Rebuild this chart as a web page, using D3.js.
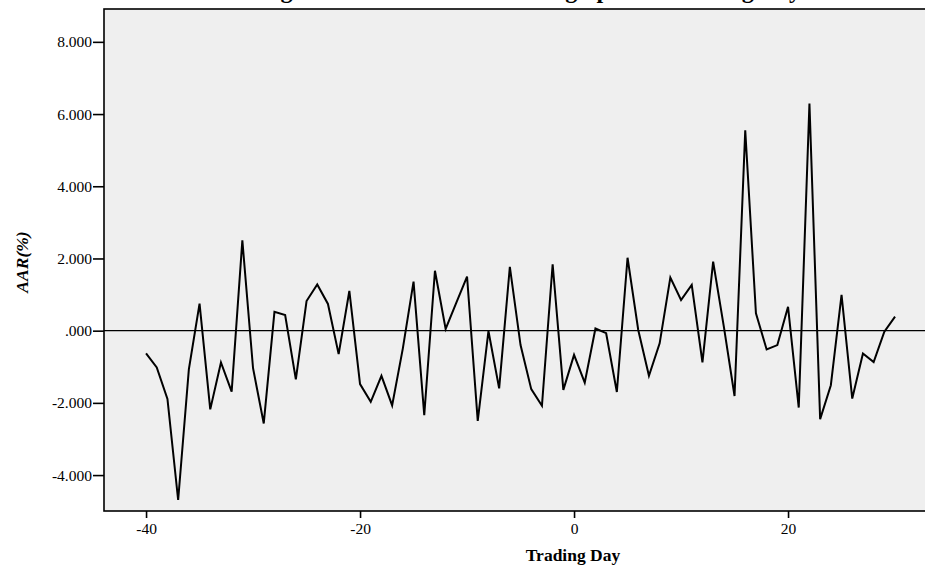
<!DOCTYPE html>
<html>
<head>
<meta charset="utf-8">
<script src="https://cdn.jsdelivr.net/npm/d3@7"></script>
<style>
  html, body { margin: 0; padding: 0; background: #ffffff; }
  svg { display: block; }
</style>
</head>
<body>
<svg id="chart" width="925" height="567"></svg>
<script>
const days = d3.range(-40, 31);
const aar = [
  -0.63, -1.02, -1.89, -4.69, -1.07, 0.75, -2.18, -0.88, -1.69, 2.50,
  -1.04, -2.57, 0.52, 0.43, -1.35, 0.82, 1.28, 0.74, -0.65, 1.10,
  -1.48, -1.97, -1.25, -2.07, -0.49, 1.36, -2.34, 1.66, 0.05, 0.78,
  1.50, -2.50, -0.01, -1.60, 1.77, -0.40, -1.62, -2.08, 1.84, -1.64,
  -0.67, -1.44, 0.06, -0.07, -1.70, 2.02, 0.02, -1.25, -0.35, 1.47,
  0.85, 1.27, -0.88, 1.91, 0.11, -1.81, 5.55, 0.48, -0.52, -0.40,
  0.66, -2.13, 6.29, -2.45, -1.51, 0.99, -1.88, -0.63, -0.87, -0.03,
  0.39
];
const xTicks = [-40, -20, 0, 20];
const yTicks = [-4, -2, 0, 2, 4, 6, 8];
const titleText = "Average Abnormal Returns during Spin-off Trading Days";
const xTitle = "Trading Day";
const yTitle = "AAR(%)";

const svg = d3.select("#chart");
const pLeft = 104, pRight = 940, pTop = 9, pBottom = 511;
const serif = "'Liberation Serif', 'Times New Roman', serif";

const x = d3.scaleLinear().domain([-43.93, 32.8]).range([104, 925]);
const y = d3.scaleLinear().domain([-4.995, 8.91]).range([pBottom, pTop]);

// title (cut off at top as in reference)
svg.append("text")
  .attr("x", 515).attr("y", -2)
  .attr("text-anchor", "middle")
  .attr("font-family", serif)
  .attr("font-weight", "bold")
  .attr("font-size", 24)
  .text(titleText);

// plot background
svg.append("rect")
  .attr("x", pLeft).attr("y", pTop)
  .attr("width", pRight - pLeft).attr("height", pBottom - pTop)
  .attr("fill", "#efefef")
  .attr("stroke", "#000").attr("stroke-width", 1.6);

const fmtY = v => d3.format(".3f")(v).replace("\u2212", "-").replace(/^(-?)0\./, "$1.");
const fmtX = v => String(v);

// y axis
const yAxis = svg.append("g")
  .attr("transform", `translate(${pLeft},0)`)
  .call(d3.axisLeft(y).tickValues(yTicks).tickFormat(fmtY).tickSize(11).tickPadding(1));
yAxis.select(".domain").remove();
yAxis.selectAll("line").attr("stroke", "#000").attr("stroke-width", 1.6);
yAxis.selectAll("text")
  .attr("font-family", serif).attr("font-size", 15.5).attr("fill", "#000");

// x axis
const xAxis = svg.append("g")
  .attr("transform", `translate(0,${pBottom})`)
  .call(d3.axisBottom(x).tickValues(xTicks).tickFormat(fmtX).tickSize(7).tickPadding(5));
xAxis.select(".domain").remove();
xAxis.selectAll("line").attr("stroke", "#000").attr("stroke-width", 1.6);
xAxis.selectAll("text")
  .attr("font-family", serif).attr("font-size", 15.5).attr("fill", "#000");

// zero reference line
svg.append("line")
  .attr("x1", pLeft).attr("x2", pRight)
  .attr("y1", y(0)).attr("y2", y(0))
  .attr("stroke", "#000").attr("stroke-width", 1.4);

// data line
const line = d3.line().x((d, i) => x(days[i])).y(d => y(d));
svg.append("path")
  .datum(aar)
  .attr("d", line)
  .attr("fill", "none")
  .attr("stroke", "#000")
  .attr("stroke-width", 2)
  .attr("stroke-linejoin", "miter");

// axis titles
svg.append("text")
  .attr("x", 573).attr("y", 561)
  .attr("text-anchor", "middle")
  .attr("font-family", serif)
  .attr("font-weight", "bold")
  .attr("font-size", 17.5)
  .text(xTitle);

svg.append("text")
  .attr("transform", `translate(28,262) rotate(-90)`)
  .attr("text-anchor", "middle")
  .attr("font-family", serif)
  .attr("font-weight", "bold")
  .attr("font-style", "italic")
  .attr("font-size", 17.5)
  .text(yTitle);
</script>
</body>
</html>
